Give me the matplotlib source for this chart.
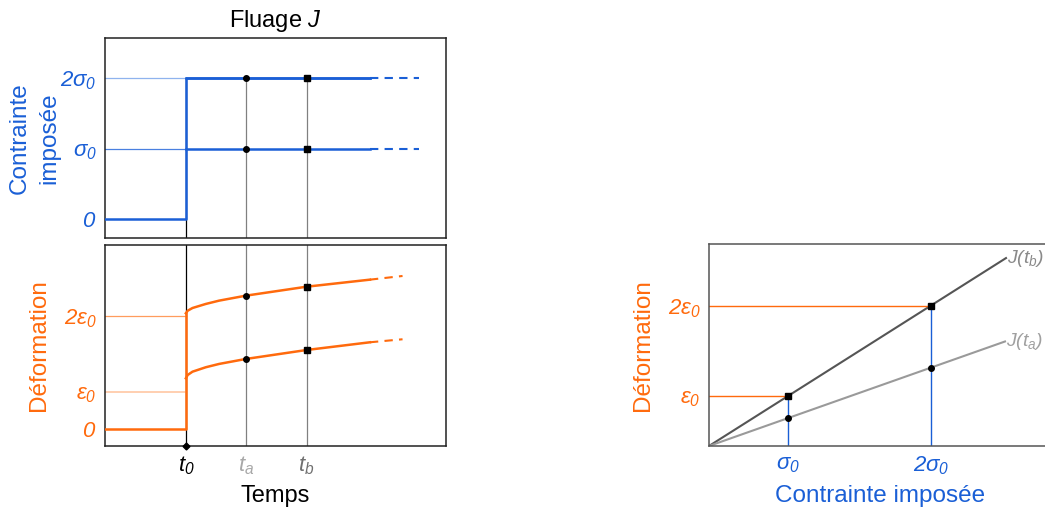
import matplotlib
matplotlib.use("Agg")
import matplotlib.pyplot as plt

plt.rcParams['font.family'] = ['Liberation Sans', 'DejaVu Sans']
plt.rcParams['mathtext.fontset'] = 'custom'
plt.rcParams['mathtext.rm'] = 'Liberation Sans:italic'
plt.rcParams['mathtext.it'] = 'Liberation Sans:italic'
plt.rcParams['mathtext.default'] = 'it'

bleu = '#1a5fd6'
orange = '#ff6a0d'

# --- données ---
# temps (t0 = 0, ta = 1, tb = 2)
t_ticks = [0, 1, 2]
t_labels = ['$t_0$', '$t_a$', '$t_b$']
t_colors = ['black', '#a8a8a8', '#707070']
t_fin = 3.05
t_pointille_haut = 3.87
t_pointille_bas = 3.59

# contrainte imposée
contraintes = [1, 2]
contrainte_labels = [r'$0$', r'$\sigma_0$', r'$2\sigma_0$']

# déformation (fluage)
t_courbe = [0, 0.03, 0.11, 0.33, 0.55, 0.99, 2.0, 3.05]
def_basse = [0.676, 0.72, 0.764, 0.823, 0.867, 0.933, 1.053, 1.156]
def_haute = [1.543, 1.577, 1.613, 1.667, 1.711, 1.777, 1.897, 1.991]
def_basse_fin = 1.196
def_haute_fin = 2.04
eps_ticks = [0, 0.493, 1.507]
eps_labels = [r'$0$', r'$\varepsilon_0$', r'$2\varepsilon_0$']

# diagramme isochrone
sigma_pts = [0.79, 2.22]
eps_tb = [0.50, 1.39]
eps_ta = [0.28, 0.78]
J_tb_fin = (2.97, 1.87)
J_ta_fin = (2.96, 1.04)
sigma_labels = [r'$\sigma_0$', r'$2\sigma_0$']
eps_iso_labels = [r'$\varepsilon_0$', r'$2\varepsilon_0$']

fig = plt.figure(figsize=(10.45, 5.15), dpi=100)
ax1 = fig.add_axes([105/1045, 1-238/515, 341/1045, 200/515])
ax2 = fig.add_axes([105/1045, 1-446/515, 341/1045, 201/515])
ax3 = fig.add_axes([709/1045, 1-446/515, 343/1045, 202/515])

xlim = (-1.34, 4.31)

# ---------- contrainte ----------
ax1.set_xlim(xlim)
ax1.set_ylim(-0.27, 2.57)
ax1.plot([0, 0], [-0.27, 2], color='black', lw=0.9, zorder=1)
for t in t_ticks[1:]:
    ax1.plot([t, t], [-0.27, 2], color='#808080', lw=0.9, zorder=1)
ax1.plot([xlim[0], 0], [2, 2], color='#8fb3ee', lw=0.9)
ax1.plot([xlim[0], 0], [1, 1], color='#4a80e0', lw=0.9)
ax1.plot([xlim[0], 0, 0, t_fin], [0, 0, 2, 2], color=bleu, lw=1.8, zorder=3)
for s in contraintes:
    ax1.plot([0, t_fin], [s, s], color=bleu, lw=1.8, zorder=3)
    ax1.plot([t_fin, t_pointille_haut], [s, s], color=bleu, lw=1.5, ls=(0, (4, 3)))
    ax1.plot(1, s, 'o', color='black', ms=4, zorder=4)
    ax1.plot(2, s, 's', color='black', ms=4, zorder=4)
ax1.set_xticks([])
ax1.set_yticks([0] + contraintes, contrainte_labels, color=bleu, fontsize=16)
ax1.tick_params(length=0, pad=6)
ax1.set_ylabel('Contrainte\nimposée', color=bleu, fontsize=17.5, labelpad=0,
               linespacing=1.45)
ax1.set_title('Fluage $J$', fontsize=17, pad=8)

# ---------- déformation ----------
ax2.set_xlim(xlim)
ax2.set_ylim(-0.227, 2.453)
ax2.axvline(0, color='black', lw=0.9, zorder=1)
for t in t_ticks[1:]:
    ax2.axvline(t, color='#808080', lw=0.9, zorder=1)
ax2.plot([xlim[0], 0], [eps_ticks[1]] * 2, color='#ffc7a3', lw=1.2)
ax2.plot([xlim[0], 0], [eps_ticks[2]] * 2, color='#ff9c5e', lw=0.9)
ax2.plot([xlim[0], 0, 0], [0, 0, def_haute[0]], color=orange, lw=1.8, zorder=3)
for courbe, fin in [(def_basse, def_basse_fin), (def_haute, def_haute_fin)]:
    ax2.plot(t_courbe, courbe, color=orange, lw=1.8, zorder=3)
    ax2.plot([t_fin, t_pointille_bas], [courbe[-1], fin], color=orange, lw=1.5, ls=(0, (4, 3)))
    ax2.plot(t_courbe[5], courbe[5], 'o', color='black', ms=4, zorder=4)
    ax2.plot(t_courbe[6], courbe[6], 's', color='black', ms=4, zorder=4)
ax2.plot(0, -0.227, 'D', color='black', ms=3.5, clip_on=False, zorder=5)
ax2.set_xticks(t_ticks, t_labels, fontsize=16)
for lab, c in zip(ax2.get_xticklabels(), t_colors):
    lab.set_color(c)
ax2.set_yticks(eps_ticks, eps_labels, color=orange, fontsize=16)
ax2.tick_params(length=0, pad=6)
ax2.set_ylabel('Déformation', color=orange, fontsize=17.5, labelpad=10)
ax2.set_xlabel('Temps', fontsize=17, labelpad=6)

for ax in (ax1, ax2):
    for sp in ax.spines.values():
        sp.set_color('#222222')
        sp.set_linewidth(1.1)

# ---------- isochrones ----------
ax3.set_xlim(0, 3.43)
ax3.set_ylim(0, 2.01)
ax3.plot([0, J_tb_fin[0]], [0, J_tb_fin[1]], color='#555555', lw=1.5)
ax3.plot([0, J_ta_fin[0]], [0, J_ta_fin[1]], color='#9a9a9a', lw=1.5)
for s, ea, eb in zip(sigma_pts, eps_ta, eps_tb):
    ax3.plot([s, s], [0, eb], color=bleu, lw=1.0, zorder=2)
    ax3.plot([0, s], [eb, eb], color=orange, lw=1.0, zorder=2)
    ax3.plot(s, ea, 'o', color='black', ms=4, zorder=4)
    ax3.plot(s, eb, 's', color='black', ms=4.5, zorder=4)
ax3.text(J_tb_fin[0] + 0.01, J_tb_fin[1], '$J(t_b)$', color='#8a8a8a', fontsize=14, va='center')
ax3.text(J_ta_fin[0] + 0.01, J_ta_fin[1], '$J(t_a)$', color='#a0a0a0', fontsize=14, va='center')
ax3.set_xticks(sigma_pts, sigma_labels, color=bleu, fontsize=16)
ax3.set_yticks(eps_tb, eps_iso_labels, color=orange, fontsize=16)
ax3.tick_params(length=0, pad=6)
ax3.set_xlabel('Contrainte imposée', color=bleu, fontsize=17.5, labelpad=6)
ax3.set_ylabel('Déformation', color=orange, fontsize=17.5, labelpad=10)
for sp in ax3.spines.values():
    sp.set_color('#555555')
    sp.set_linewidth(1.1)

fig.savefig('out.png', dpi=100)
